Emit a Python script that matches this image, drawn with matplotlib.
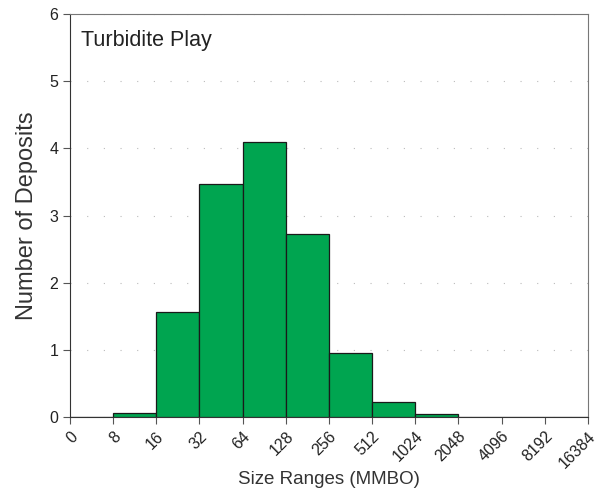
import matplotlib
matplotlib.use("Agg")
import matplotlib.pyplot as plt

plt.rcParams["font.family"] = ["Liberation Sans", "DejaVu Sans"]

# bin edges (MMBO) and deposit counts per bin
edge_labels = ["0", "8", "16", "32", "64", "128", "256", "512", "1024",
               "2048", "4096", "8192", "16384"]
counts = [0.0, 0.06, 1.57, 3.47, 4.10, 2.73, 0.96, 0.22, 0.04, 0.0, 0.0, 0.0]

fig = plt.figure(figsize=(5.98, 4.88), dpi=100)
ax = fig.add_axes([0.117, 0.1455, 0.866, 0.8255])

positions = list(range(len(counts)))
ax.bar(positions, counts, width=1.0, align="edge", color="#00A550",
       edgecolor="#1a1a1a", linewidth=0.9, zorder=3)

ax.set_xlim(0, len(counts))
ax.set_ylim(0, 6)
ax.set_xticks(range(len(edge_labels)))
ax.set_xticklabels(edge_labels, rotation=45, ha="right", rotation_mode="anchor",
                   fontsize=11.5, color="#222")
ax.set_yticks(range(7))
ax.tick_params(axis="y", labelsize=11.5, labelcolor="#222", direction="out",
               length=5, color="#555")
ax.tick_params(axis="x", direction="out", length=5, color="#555")

ax.yaxis.grid(True, linestyle=(0, (1, 14)), color="#bbbbbb", linewidth=0.8, zorder=0)

for side in ("left", "bottom"):
    ax.spines[side].set_color("#333333")
for side in ("top", "right"):
    ax.spines[side].set_color("#777777")

ax.set_xlabel("Size Ranges (MMBO)", fontsize=13.5, color="#333", labelpad=0)
ax.set_ylabel("Number of Deposits", fontsize=17, color="#333", labelpad=8)
ax.text(0.022, 0.96, "Turbidite Play", transform=ax.transAxes, fontsize=15.5,
        va="top", ha="left", color="#222")

fig.savefig("out.png", dpi=100)
